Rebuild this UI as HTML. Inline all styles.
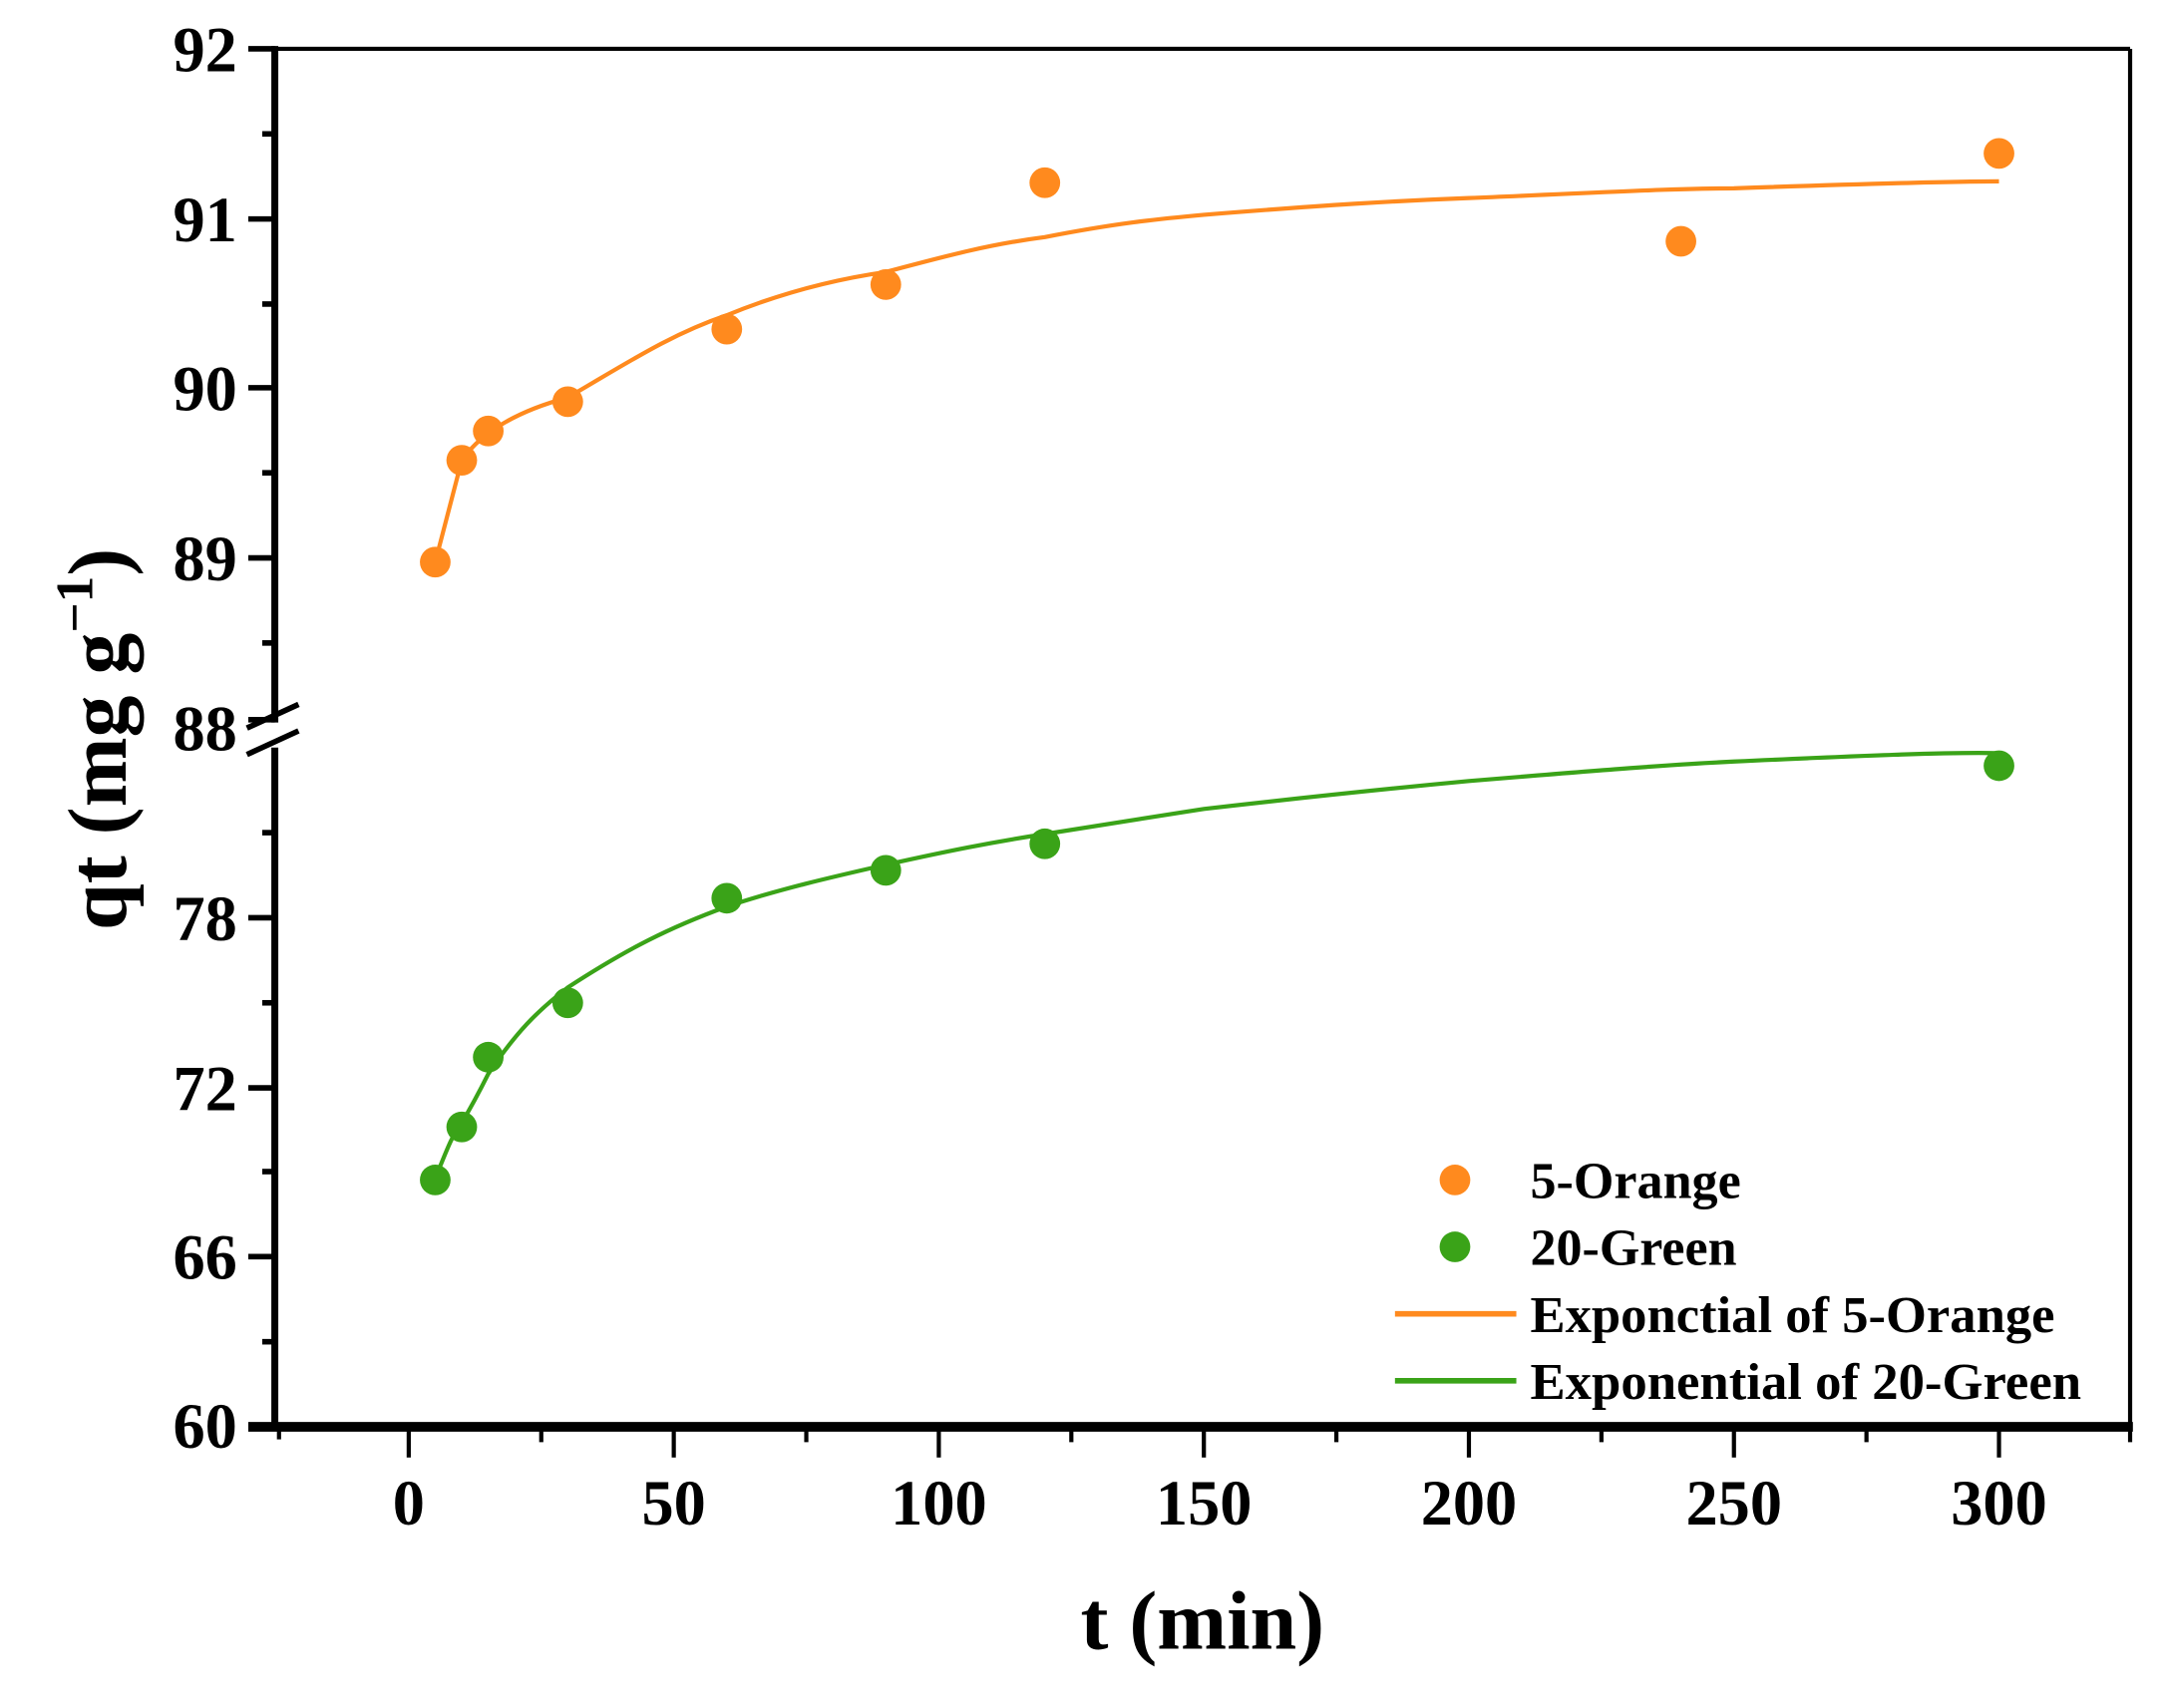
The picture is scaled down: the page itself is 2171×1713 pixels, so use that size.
<!DOCTYPE html>
<html><head><meta charset="utf-8"><style>html,body{margin:0;padding:0;background:#fff}svg{display:block}</style></head><body>
<svg width="2171" height="1713" viewBox="0 0 1552 1224.6" xmlns="http://www.w3.org/2000/svg" font-family="'Liberation Serif',serif" font-weight="bold">
<rect width="1552" height="1224.6" fill="#fff"/>
<line x1="197" y1="35" x2="1527" y2="35" stroke="#000" stroke-width="3"/>
<line x1="1527" y1="35" x2="1527" y2="1024" stroke="#000" stroke-width="3"/>
<line x1="197" y1="33" x2="197" y2="518" stroke="#000" stroke-width="5"/>
<line x1="197" y1="536" x2="197" y2="1024" stroke="#000" stroke-width="5"/>
<line x1="178" y1="1023" x2="1529" y2="1023" stroke="#000" stroke-width="7"/>
<line x1="177" y1="522" x2="214" y2="505" stroke="#000" stroke-width="4"/>
<line x1="177" y1="541" x2="214" y2="524" stroke="#000" stroke-width="4"/>
<g stroke="#000" stroke-width="4">
<line x1="178" y1="35" x2="197" y2="35"/><line x1="178" y1="157" x2="197" y2="157"/><line x1="178" y1="278" x2="197" y2="278"/><line x1="178" y1="400" x2="197" y2="400"/><line x1="178" y1="516" x2="197" y2="516"/>
<line x1="188" y1="96" x2="197" y2="96"/><line x1="188" y1="218" x2="197" y2="218"/><line x1="188" y1="339" x2="197" y2="339"/><line x1="188" y1="461" x2="197" y2="461"/>
<line x1="178" y1="658" x2="197" y2="658"/><line x1="178" y1="780" x2="197" y2="780"/><line x1="178" y1="901" x2="197" y2="901"/>
<line x1="188" y1="597" x2="197" y2="597"/><line x1="188" y1="719" x2="197" y2="719"/><line x1="188" y1="840" x2="197" y2="840"/><line x1="188" y1="962" x2="197" y2="962"/>
</g>
<g stroke="#000" stroke-width="3">
<line x1="293" y1="1023" x2="293" y2="1045"/><line x1="483" y1="1023" x2="483" y2="1045"/><line x1="673" y1="1023" x2="673" y2="1045"/><line x1="863" y1="1023" x2="863" y2="1045"/><line x1="1053" y1="1023" x2="1053" y2="1045"/><line x1="1243" y1="1023" x2="1243" y2="1045"/><line x1="1433" y1="1023" x2="1433" y2="1045"/>
<line x1="200" y1="1023" x2="200" y2="1032"/><line x1="388" y1="1023" x2="388" y2="1034"/><line x1="578" y1="1023" x2="578" y2="1034"/><line x1="768" y1="1023" x2="768" y2="1034"/><line x1="958" y1="1023" x2="958" y2="1034"/><line x1="1148" y1="1023" x2="1148" y2="1034"/><line x1="1338" y1="1023" x2="1338" y2="1034"/><line x1="1527" y1="1023" x2="1527" y2="1034"/>
</g>
<g font-size="46" text-anchor="end">
<text x="170" y="51">92</text><text x="170" y="173">91</text><text x="170" y="294">90</text><text x="170" y="416">89</text><text x="170" y="538">88</text>
<text x="170" y="674">78</text><text x="170" y="796">72</text><text x="170" y="917">66</text><text x="170" y="1038">60</text>
</g>
<g font-size="46" text-anchor="middle">
<text x="293" y="1093">0</text><text x="483" y="1093">50</text><text x="673" y="1093">100</text><text x="863" y="1093">150</text><text x="1053" y="1093">200</text><text x="1243" y="1093">250</text><text x="1433" y="1093">300</text>
</g>
<text x="862" y="1182" font-size="60" text-anchor="middle">t (min)</text>
<text transform="translate(90,530) rotate(-90)" font-size="60" text-anchor="middle">qt (mg g<tspan font-size="38" dy="-24">−1</tspan><tspan dy="24">)</tspan></text>
<path d="M312,403 L331,330 C345,310 370,295 407,285 C450,260 480,240 521,226 C560,210 600,200 635,195 C680,183 710,175 749,170 C800,160 830,157 863,154 C950,147 1000,144 1053,142 C1150,138 1200,135 1243,135 C1330,132 1400,130 1433,130" fill="none" stroke="#ff8a1e" stroke-width="3"/>
<path d="M312,845 C320,825 325,812 331,805 C340,790 345,780 350,770 C370,740 385,725 407,708 C450,680 480,665 521,650 C560,637 600,628 635,620 C680,610 710,604 749,598 C800,590 830,585 863,580 C950,570 1000,565 1053,560 C1150,552 1200,548 1243,546 C1330,542 1400,539 1433,540" fill="none" stroke="#3aa318" stroke-width="3"/>
<g fill="#ff8a1e">
<circle cx="312" cy="403" r="11"/><circle cx="331" cy="330" r="11"/><circle cx="350" cy="309" r="11"/><circle cx="407" cy="288" r="11"/><circle cx="521" cy="236" r="11"/><circle cx="635" cy="204" r="11"/><circle cx="749" cy="131" r="11"/><circle cx="1205" cy="173" r="11"/><circle cx="1433" cy="110" r="11"/>
</g>
<g fill="#3aa318">
<circle cx="312" cy="846" r="11"/><circle cx="331" cy="808" r="11"/><circle cx="350" cy="758" r="11"/><circle cx="407" cy="719" r="11"/><circle cx="521" cy="644" r="11"/><circle cx="635" cy="624" r="11"/><circle cx="749" cy="605" r="11"/><circle cx="1433" cy="549" r="11"/>
</g>
<circle cx="1043" cy="846" r="11" fill="#ff8a1e"/>
<circle cx="1043" cy="894" r="11" fill="#3aa318"/>
<line x1="1000" y1="942" x2="1087" y2="942" stroke="#ff8a1e" stroke-width="4"/>
<line x1="1000" y1="990" x2="1087" y2="990" stroke="#3aa318" stroke-width="4"/>
<g font-size="37">
<text x="1097" y="859" textLength="151" lengthAdjust="spacingAndGlyphs">5-Orange</text><text x="1097" y="907" textLength="148" lengthAdjust="spacingAndGlyphs">20-Green</text>
<text x="1097" y="955" textLength="376" lengthAdjust="spacingAndGlyphs">Exponctial of 5-Orange</text>
<text x="1097" y="1003" textLength="395" lengthAdjust="spacingAndGlyphs">Exponential of 20-Green</text>
</g>
</svg>
</body></html>
